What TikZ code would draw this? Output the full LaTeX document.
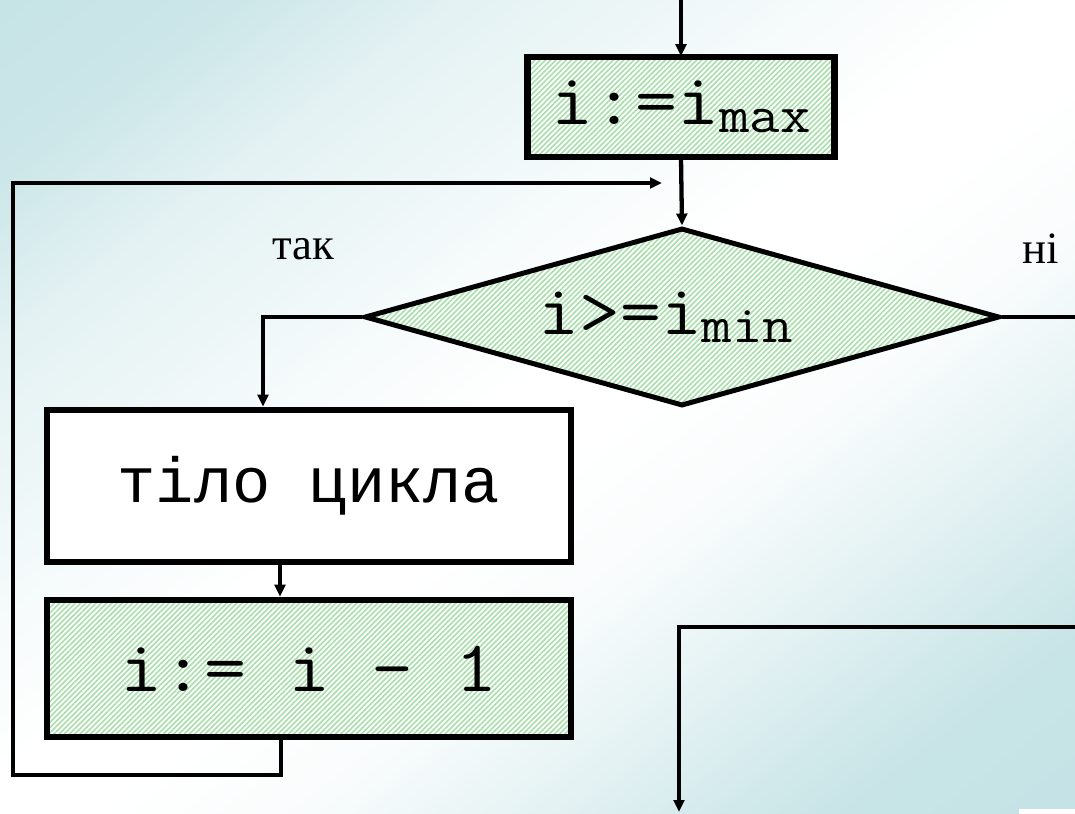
\documentclass[tikz,border=0pt]{standalone}
\usepackage{fontspec}
\setmainfont{Liberation Serif}
\setmonofont[FakeStretch=1.12]{Latin Modern Mono}
\newfontfamily\cyrmono{Liberation Mono}
\usetikzlibrary{shapes.geometric,arrows.meta,patterns.meta}

\definecolor{bgteal}{HTML}{C3E2E5}
\definecolor{hatchgreen}{HTML}{A8DEAA}

% pale backdrop: teal in two opposite corners, white across the middle
% (a path is mapped onto the 25bp..75bp part of a shading)
\pgfdeclareverticalshading{backdrop}{100bp}{color(0bp)=(bgteal);
  color(25bp)=(bgteal);
  color(32bp)=(bgteal!92!white); color(34.5bp)=(bgteal!75!white);
  color(38bp)=(bgteal!48!white); color(43.5bp)=(bgteal!10!white);
  color(48bp)=(white); color(51bp)=(white);
  color(56bp)=(bgteal!17!white); color(59.5bp)=(bgteal!32!white);
  color(63bp)=(bgteal!45!white); color(68bp)=(bgteal!85!white);
  color(75bp)=(bgteal); color(100bp)=(bgteal)}

\tikzset{
  procbox/.style={draw=black, line width=6.7pt, rectangle, inner sep=0pt,
    font=\ttfamily\fontsize{73}{73}\selectfont},
  hatched/.style={preaction={fill=white},
    pattern={Lines[angle=45,distance=3.7pt,line width=1.6pt]},
    pattern color=hatchgreen},
  decision/.style={draw=black, line width=5pt, diamond, aspect=3.57,
    inner sep=0pt, minimum width=635bp, minimum height=178bp,
    font=\ttfamily\fontsize{71}{71}\selectfont},
  conn/.style={draw=black, line width=4.3pt,
    -{Triangle[length=12pt,width=10.7pt]}},
  plainconn/.style={draw=black, line width=4.3pt},
  lbl/.style={font=\fontsize{45}{45}\selectfont, inner sep=0pt},
}

\newcommand{\subidx}[1]{\raisebox{-8pt}{\fontsize{53}{53}\selectfont #1}}

\begin{document}
\begin{tikzpicture}[x=1bp, y=-1bp]
  % page and background shading
  \useasboundingbox (0,0) rectangle (1075,814);
  \begin{scope}
    \clip (-20,-20) rectangle (1095,834);
    \begin{scope}[transform canvas={rotate around={37:(537.5,407)}}]
      \shade[shading=backdrop] (-180,-297) rectangle (1255,1111);
    \end{scope}
  \end{scope}
  \fill[white] (1019,809) rectangle (1080,820);

  % blocks
  \node[procbox, hatched, minimum width=307bp, minimum height=100bp]
    (init) at (681,107) {i:=i\subidx{max}};
  \node[decision, hatched] (cond) at (682,317)
    {\hspace*{-32pt}i>=i\subidx{min}};
  \node[procbox, fill=white, minimum width=524bp, minimum height=152bp,
        font=\cyrmono\fontsize{64}{64}\selectfont]
    (body) at (309,486) {тіло цикла};
  \node[procbox, hatched, minimum width=524bp, minimum height=137bp]
    (step) at (309,668.5) {i:= i - 1};

  % branch labels
  \node[lbl] (yes) at (303,249) {так};
  \node[lbl] (no) at (1041,249) {ні};

  % free ends
  \coordinate (entry) at (681,-5);
  \coordinate (loopin) at (662,183);
  \coordinate (noexit) at (1080,317);
  \coordinate (back) at (1080,627);
  \coordinate (exit) at (679,812);

  % connectors
  \draw[conn] (entry) -- (init.north);
  \draw[conn] (init.south) -- (cond.north);
  \draw[conn] (cond.west) -| ([xshift=-46bp]body.north);
  \draw[conn] ([xshift=-29bp]body.south) -- ([xshift=-29bp]step.north);
  \draw[conn, line join=miter] ([xshift=-28bp]step.south) |- (13,775)
    -- (13,183) -- (loopin);
  \draw[plainconn] (cond.east) -- (noexit);
  \draw[conn, line join=miter] (back) -| (exit);
\end{tikzpicture}
\end{document}
